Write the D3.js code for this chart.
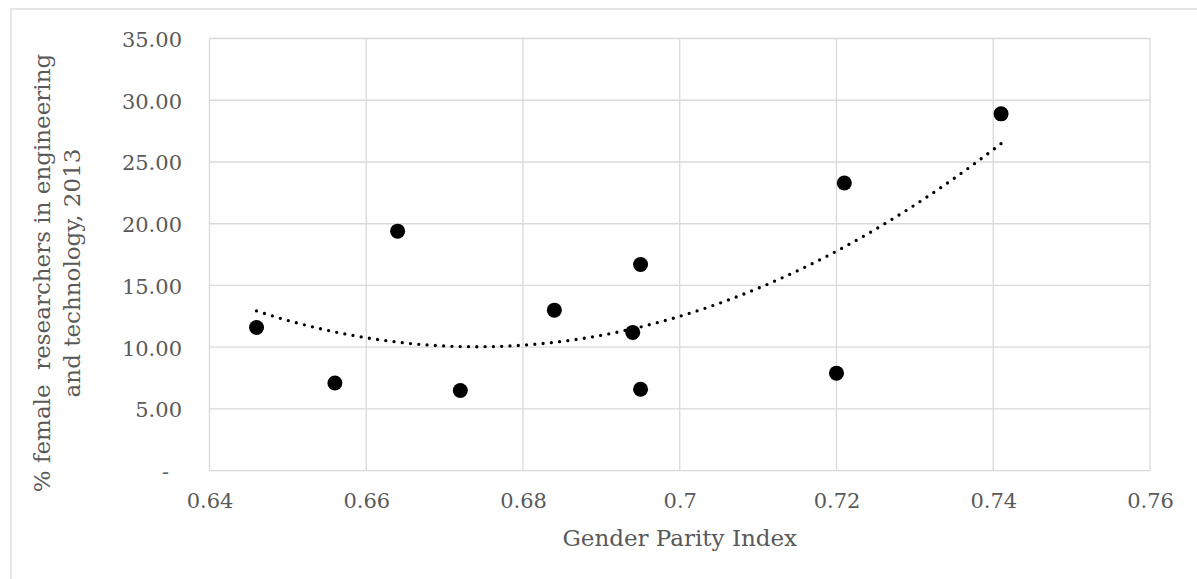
<!DOCTYPE html>
<html>
<head>
<meta charset="utf-8">
<script src="https://cdn.jsdelivr.net/npm/d3@7/dist/d3.min.js"></script>
<style>
  html, body { margin: 0; padding: 0; background: #fff; }
  svg { display: block; }
  text { font-family: "DejaVu Serif", serif; fill: #595959; }
</style>
</head>
<body>
<svg id="chart" width="1197" height="579"></svg>
<script>
// Gender Parity Index vs. share of female researchers in engineering & technology (2013)
const gpi = [0.646, 0.656, 0.664, 0.672, 0.684, 0.694, 0.695, 0.695, 0.720, 0.721, 0.741];
const femaleShare = [11.6, 7.1, 19.4, 6.5, 13.0, 11.2, 16.7, 6.6, 7.9, 23.3, 28.9];

const xTicks = [0.64, 0.66, 0.68, 0.70, 0.72, 0.74, 0.76];
const xTickLabels = ["0.64", "0.66", "0.68", "0.7", "0.72", "0.74", "0.76"];
const yTicks = [0, 5, 10, 15, 20, 25, 30, 35];
const yTickLabels = ["-", "5.00", "10.00", "15.00", "20.00", "25.00", "30.00", "35.00"];

const xTitle = "Gender Parity Index";
const yTitleLines = ["% female  researchers in engineering", "and technology, 2013"];

const svg = d3.select("#chart");
const W = 1197, H = 579;
const plot = { left: 209.5, right: 1150, top: 38.5, bottom: 470.7 };
const gridColor = "#d9d9d9";

// chart area frame
svg.append("rect")
  .attr("x", 11).attr("y", 9)
  .attr("width", W + 10).attr("height", H + 10)
  .attr("fill", "#fff").attr("stroke", gridColor).attr("stroke-width", 1.3);

const x = d3.scaleLinear().domain([0.64, 0.76]).range([plot.left, plot.right]);
const y = d3.scaleLinear().domain([0, 35]).range([plot.bottom, plot.top]);

// gridlines
const grid = svg.append("g");
grid.selectAll("line.v").data(xTicks).join("line")
  .attr("x1", d => x(d)).attr("x2", d => x(d))
  .attr("y1", plot.top).attr("y2", plot.bottom)
  .attr("stroke", gridColor).attr("stroke-width", 1.3);
grid.selectAll("line.h").data(yTicks).join("line")
  .attr("x1", plot.left).attr("x2", plot.right)
  .attr("y1", d => y(d)).attr("y2", d => y(d))
  .attr("stroke", gridColor).attr("stroke-width", 1.3);

// axes (labels only; lines come from the grid)
const xAxis = d3.axisBottom(x).tickValues(xTicks).tickSize(0).tickPadding(0)
  .tickFormat((d, i) => xTickLabels[i]);
const gx = svg.append("g").attr("transform", `translate(0,${plot.bottom})`).call(xAxis);
gx.select(".domain").remove();
gx.selectAll("text").attr("font-size", 21).attr("font-family", "DejaVu Serif")
  .attr("fill", "#595959").attr("y", 37).attr("dy", 0);

const yAxis = d3.axisLeft(y).tickValues(yTicks).tickSize(0).tickPadding(0)
  .tickFormat((d, i) => yTickLabels[i]);
const gy = svg.append("g").attr("transform", `translate(${plot.left},0)`).call(yAxis);
gy.select(".domain").remove();
gy.selectAll("text").attr("font-size", 21).attr("font-family", "DejaVu Serif")
  .attr("fill", "#595959").attr("dy", "0.38em")
  .attr("x", (d) => d === 0 ? -40.5 : -27.5);

// axis titles
svg.append("text")
  .attr("x", (plot.left + plot.right) / 2).attr("y", 546)
  .attr("text-anchor", "middle").attr("font-size", 23)
  .text(xTitle);

const yt = svg.append("text")
  .attr("transform", "translate(0,273) rotate(-90)")
  .attr("text-anchor", "middle").attr("font-size", 23);
yTitleLines.forEach((line, i) => {
  yt.append("tspan").attr("x", 0).attr("y", 50 + i * 30)
    .attr("xml:space", "preserve").style("white-space", "pre").text(line);
});

// second-order polynomial trendline (least squares), spanning the data range
function polyFit2(xs, ys) {
  const mx = d3.mean(xs);
  const u = xs.map(v => v - mx);
  const n = xs.length;
  let s1 = 0, s2 = 0, s3 = 0, s4 = 0, t0 = 0, t1 = 0, t2 = 0;
  for (let i = 0; i < n; i++) {
    const a = u[i], b = ys[i];
    s1 += a; s2 += a * a; s3 += a * a * a; s4 += a * a * a * a;
    t0 += b; t1 += a * b; t2 += a * a * b;
  }
  // solve [[n,s1,s2],[s1,s2,s3],[s2,s3,s4]] * [c0,c1,c2] = [t0,t1,t2]
  const M = [[n, s1, s2, t0], [s1, s2, s3, t1], [s2, s3, s4, t2]];
  for (let c = 0; c < 3; c++) {
    let p = c;
    for (let r = c + 1; r < 3; r++) if (Math.abs(M[r][c]) > Math.abs(M[p][c])) p = r;
    [M[c], M[p]] = [M[p], M[c]];
    for (let r = 0; r < 3; r++) {
      if (r === c) continue;
      const f = M[r][c] / M[c][c];
      for (let k = c; k < 4; k++) M[r][k] -= f * M[c][k];
    }
  }
  const c0 = M[0][3] / M[0][0], c1 = M[1][3] / M[1][1], c2 = M[2][3] / M[2][2];
  return v => c0 + c1 * (v - mx) + c2 * (v - mx) * (v - mx);
}
const trend = polyFit2(gpi, femaleShare);
const [xMin, xMax] = d3.extent(gpi);
const trendPts = d3.range(0, 101).map(i => {
  const v = xMin + (xMax - xMin) * i / 100;
  return [v, trend(v)];
});
svg.append("path")
  .datum(trendPts)
  .attr("d", d3.line().x(d => x(d[0])).y(d => y(d[1])).curve(d3.curveLinear))
  .attr("fill", "none").attr("stroke", "#000").attr("stroke-width", 3.3)
  .attr("stroke-linecap", "round").attr("stroke-dasharray", "0 8.3");

// data points
svg.append("g").selectAll("circle")
  .data(gpi.map((v, i) => [v, femaleShare[i]]))
  .join("circle")
  .attr("cx", d => x(d[0])).attr("cy", d => y(d[1]))
  .attr("r", 7.5).attr("fill", "#000");
</script>
</body>
</html>
